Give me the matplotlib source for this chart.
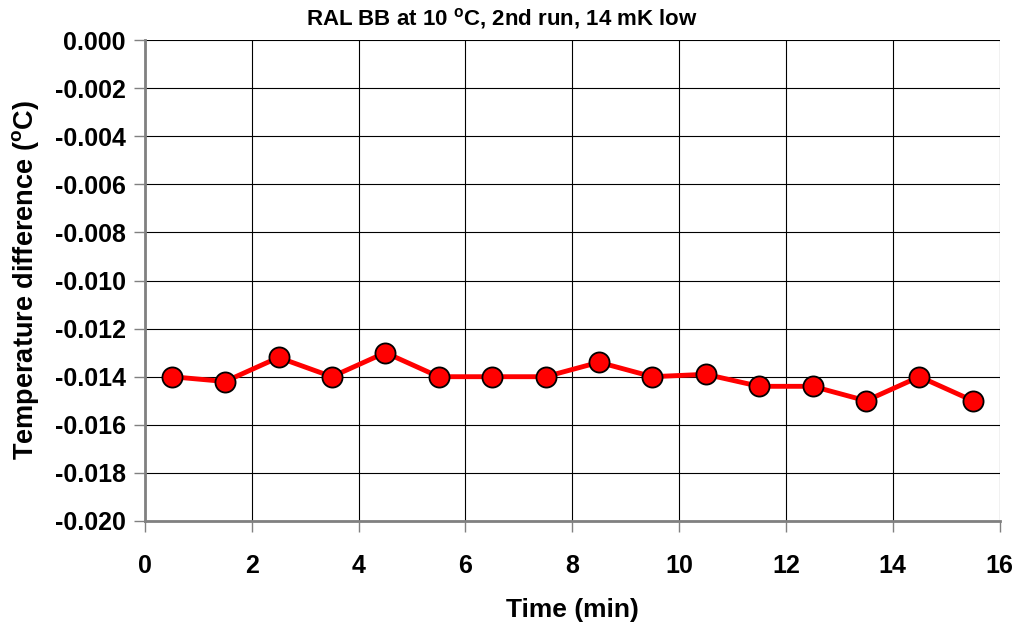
import matplotlib
matplotlib.use('Agg')
import matplotlib.pyplot as plt

plt.rcParams['font.family'] = 'Liberation Sans'
plt.rcParams['font.weight'] = 'bold'
plt.rcParams['mathtext.fontset'] = 'custom'
plt.rcParams['mathtext.rm'] = 'Liberation Sans:bold'
plt.rcParams['mathtext.bf'] = 'Liberation Sans:bold'
plt.rcParams['mathtext.default'] = 'bf'

# time in minutes and temperature difference in degC
time_min = [0.5, 1.5, 2.5, 3.5, 4.5, 5.5, 6.5, 7.5, 8.5, 9.5, 10.5, 11.5, 12.5, 13.5, 14.5, 15.5]
temp_diff = [-0.0140, -0.0142, -0.0132, -0.0140, -0.0130, -0.0140, -0.0140, -0.0140,
             -0.0134, -0.0140, -0.0139, -0.0144, -0.0144, -0.0150, -0.0140, -0.0150]
x_ticks = [0, 2, 4, 6, 8, 10, 12, 14, 16]
y_ticks = [-0.020, -0.018, -0.016, -0.014, -0.012, -0.010, -0.008, -0.006, -0.004, -0.002, 0.000]

fig = plt.figure(figsize=(10.21, 6.25), dpi=100)
ax = fig.add_axes([0.142, 0.1664, 0.837, 0.7696])

ax.plot(time_min, temp_diff, color='#ff0000', linewidth=3.5, marker='o', markersize=14.5,
        markerfacecolor='#ff0000', markeredgecolor='black', markeredgewidth=1.3, zorder=3)

ax.set_xlim(0, 16)
ax.set_ylim(-0.020, 0.000)
ax.set_xticks(x_ticks)
ax.set_yticks(y_ticks)
ax.set_yticklabels(['%.3f' % v for v in y_ticks])
ax.grid(True, color='black', linewidth=0.8)

for s in ['top', 'right']:
    ax.spines[s].set_visible(False)
for s in ['left', 'bottom']:
    ax.spines[s].set_color('#808080')
    ax.spines[s].set_linewidth(2)

ax.tick_params(axis='both', labelsize=18, length=8, width=1, color='#808080', pad=6)
ax.tick_params(axis='x', pad=16)

ax.set_xlabel('Time (min)', fontsize=19, fontweight='bold', labelpad=14)
ax.set_ylabel(r'Temperature difference ($^{o}$C)', fontsize=19.5, fontweight='bold', labelpad=10)
fig.text(0.492, 0.971, r'RAL BB at 10 $^{o}$C, 2nd run, 14 mK low', ha='center', va='center',
         fontsize=16, fontweight='bold')

fig.savefig('out.png', dpi=100)
